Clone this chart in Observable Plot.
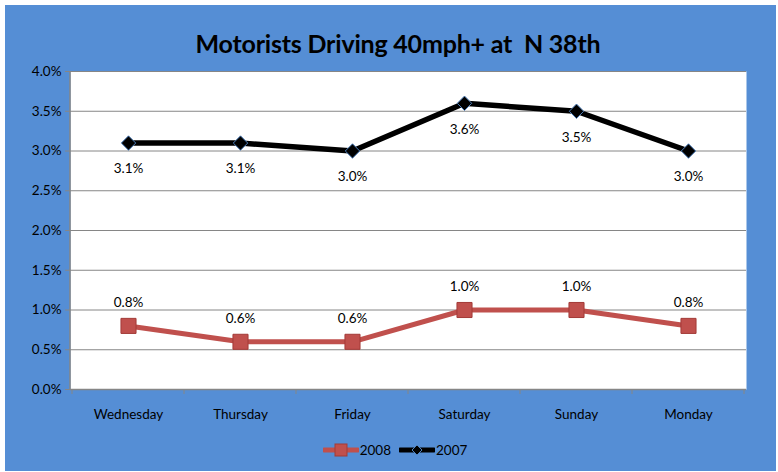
<!DOCTYPE html>
<html>
<head>
<meta charset="utf-8">
<script src="https://cdn.jsdelivr.net/npm/d3@7"></script>
<script src="https://cdn.jsdelivr.net/npm/@observablehq/plot@0.6"></script>
<style>
  html, body { margin: 0; padding: 0; background: #ffffff; }
  #wrap { position: relative; width: 778px; height: 472px; overflow: hidden; font-family: Lato, "Open Sans", sans-serif; }
  #bg { position: absolute; left: 5px; top: 5px; width: 771px; height: 466px; background: #558ED5; }
  #title { position: absolute; left: 0; top: 28px; width: 796px; text-align: center; font-weight: bold; font-size: 25px; white-space: pre; color: #000; letter-spacing: -0.2px; }
  #chart { position: absolute; left: 0; top: 0; }
  #legend { position: absolute; left: 0; top: 442px; width: 790px; text-align: center; font-size: 13.5px; color: #000; }
  #legend span.item { display: inline-flex; align-items: center; margin: 0 4px; }
  #legend svg { margin-right: 1px; }
</style>
</head>
<body>
<div id="wrap">
  <div id="bg"></div>
  <div id="title"></div>
  <div id="chart"></div>
  <div id="legend"></div>
</div>
<script>
const title = "Motorists Driving 40mph+ at  N 38th";
const days = ["Wednesday", "Thursday", "Friday", "Saturday", "Sunday", "Monday"];
const values2008 = [0.8, 0.6, 0.6, 1.0, 1.0, 0.8];
const values2007 = [3.1, 3.1, 3.0, 3.6, 3.5, 3.0];
const yTicks = [0, 0.5, 1.0, 1.5, 2.0, 2.5, 3.0, 3.5, 4.0];
const seriesNames = ["2008", "2007"];

const red = "#C0504D";
const redDark = "#A33A37";
const blueEdge = "#4F81BD";

document.getElementById("title").textContent = title;

const d2008 = days.map((d, i) => ({day: d, v: values2008[i]}));
const d2007 = days.map((d, i) => ({day: d, v: values2007[i]}));

// ticks between categories (Excel style)
function boundaryTicks(index, scales, values, dims) {
  const g = d3.create("svg:g");
  const step = scales.x(days[1]) - scales.x(days[0]);
  const y0 = dims.height - dims.marginBottom;
  const xs = days.map(d => scales.x(d) - step / 2).concat([scales.x(days[days.length - 1]) + step / 2]);
  for (const x of xs) {
    g.append("line").attr("x1", x).attr("x2", x).attr("y1", y0).attr("y2", y0 + 5)
      .attr("stroke", "#868686").attr("stroke-width", 1);
  }
  // left axis line
  const xl = dims.marginLeft;
  g.append("line").attr("x1", xl).attr("x2", xl).attr("y1", dims.marginTop).attr("y2", y0)
    .attr("stroke", "#868686").attr("stroke-width", 1.5);
  return g.node();
}

const fmt = d => d.toFixed(1) + "%";

const chart = Plot.plot({
  width: 778,
  height: 472,
  marginLeft: 70,
  marginRight: 32,
  marginTop: 71,
  marginBottom: 83,
  style: {background: "transparent", fontFamily: "Lato, 'Open Sans', sans-serif", fontSize: "13.5px", color: "#000"},
  x: {type: "point", domain: days, padding: 0.5, label: null},
  y: {domain: [0, 4], ticks: yTicks, label: null, tickFormat: fmt},
  marks: [
    Plot.frame({fill: "white", stroke: null}),
    Plot.gridY(yTicks, {stroke: "#868686", strokeOpacity: 1, strokeWidth: 1}),
    Plot.axisY({ticks: yTicks, tickSize: 5, tickPadding: 4, stroke: "#868686", fill: "#000", fontSize: 13.5, tickFormat: fmt}),
    Plot.axisX({tickSize: 0, tickPadding: 20, fill: "#000", fontSize: 13.5}),
    boundaryTicks,
    Plot.ruleY([0], {stroke: "#868686", strokeWidth: 1.5}),
    Plot.line(d2007, {x: "day", y: "v", stroke: "#000", strokeWidth: 5.5}),
    Plot.dot(d2007, {x: "day", y: "v", symbol: "diamond2", r: 6.5, fill: "#000", stroke: blueEdge, strokeWidth: 1}),
    Plot.line(d2008, {x: "day", y: "v", stroke: red, strokeWidth: 5}),
    Plot.dot(d2008, {x: "day", y: "v", symbol: "square", r: 8.5, fill: red, stroke: redDark, strokeWidth: 1}),
    Plot.text(d2007, {x: "day", y: "v", text: d => fmt(d.v), dy: 26, fill: "#000", fontSize: 13.5}),
    Plot.text(d2008, {x: "day", y: "v", text: d => fmt(d.v), dy: -23, fill: "#000", fontSize: 13.5})
  ]
});
document.getElementById("chart").appendChild(chart);

const legend = document.getElementById("legend");
const swatches = {
  "2008": `<svg width="36" height="14"><line x1="1" x2="35" y1="7" y2="7" stroke="${red}" stroke-width="5" stroke-linecap="round"/><rect x="12" y="1" width="12" height="12" fill="${red}" stroke="${redDark}"/></svg>`,
  "2007": `<svg width="36" height="14"><line x1="1" x2="35" y1="7" y2="7" stroke="#000" stroke-width="5" stroke-linecap="round"/><path d="M18,2 L23,7 L18,12 L13,7 Z" fill="#000" stroke="${blueEdge}" stroke-width="1"/></svg>`
};
legend.innerHTML = seriesNames.map(n => `<span class="item">${swatches[n]}${n}</span>`).join("");
</script>
</body>
</html>
